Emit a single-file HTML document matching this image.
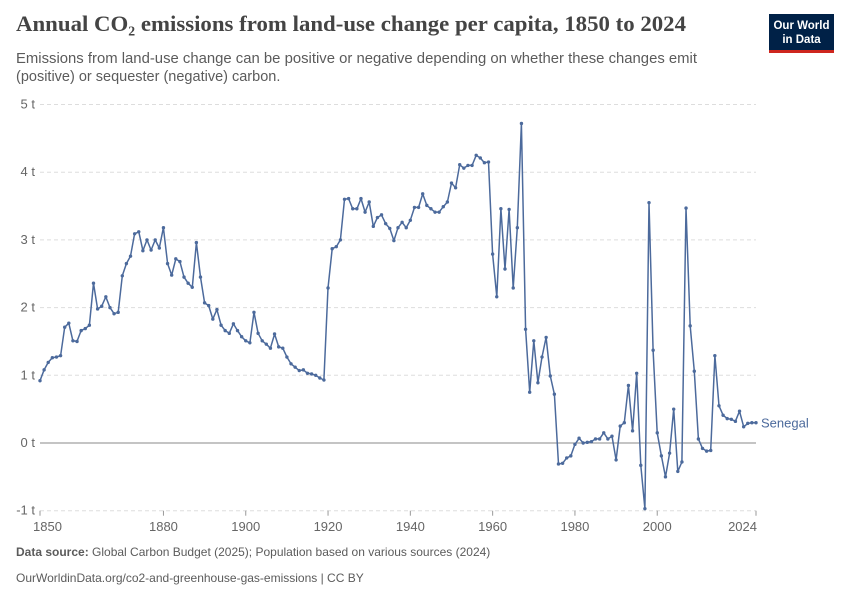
<!DOCTYPE html>
<html><head><meta charset="utf-8"><style>
body{margin:0;background:#fff;width:850px;height:600px;overflow:hidden;font-family:"Liberation Sans",sans-serif}
svg{display:block}
</style></head><body>
<svg width="850" height="600" viewBox="0 0 850 600">
<text x="16" y="31" font-family="Liberation Serif,serif" font-size="22" font-weight="bold" fill="#444" textLength="670" lengthAdjust="spacingAndGlyphs">Annual CO₂ emissions from land-use change per capita, 1850 to 2024</text>
<text x="16" y="63" font-size="14.5" fill="#5b5b5b" textLength="681" lengthAdjust="spacingAndGlyphs">Emissions from land-use change can be positive or negative depending on whether these changes emit</text>
<text x="16" y="81" font-size="14.5" fill="#5b5b5b">(positive) or sequester (negative) carbon.</text>
<g>
<rect x="769" y="14" width="65" height="36" fill="#002147"/>
<rect x="769" y="50" width="65" height="3" fill="#ce261e"/>
<text x="801.5" y="29" font-size="11.5" font-weight="bold" fill="#fff" text-anchor="middle">Our World</text>
<text x="801.5" y="43" font-size="11.5" font-weight="bold" fill="#fff" text-anchor="middle">in Data</text>
</g>
<g id="grid"></g>
<g id="series"></g>
<text x="16" y="556" font-size="12" fill="#5b5b5b"><tspan font-weight="bold">Data source:</tspan> Global Carbon Budget (2025); Population based on various sources (2024)</text>
<text x="16" y="582" font-size="12" fill="#5b5b5b">OurWorldinData.org/co2-and-greenhouse-gas-emissions | CC BY</text>
</svg>
<script>
const startYear = 1850;
const values = [
0.92,1.08,1.19,1.26,1.27,1.29,1.71,1.77,1.51,1.50,
1.66,1.69,1.74,2.36,1.98,2.02,2.16,2.00,1.91,1.93,
2.47,2.65,2.76,3.09,3.12,2.84,3.00,2.85,3.00,2.88,
3.18,2.65,2.48,2.72,2.68,2.45,2.36,2.30,2.96,2.45,
2.07,2.03,1.83,1.97,1.74,1.66,1.62,1.76,1.66,1.57,
1.51,1.48,1.93,1.62,1.51,1.46,1.40,1.61,1.42,1.40,
1.27,1.17,1.12,1.07,1.08,1.03,1.02,1.00,0.96,0.93,
2.29,2.87,2.90,3.00,3.60,3.61,3.46,3.46,3.61,3.41,
3.56,3.20,3.33,3.37,3.24,3.17,2.99,3.18,3.26,3.18,
3.29,3.48,3.48,3.68,3.51,3.46,3.41,3.41,3.49,3.56,
3.84,3.77,4.11,4.06,4.10,4.10,4.25,4.21,4.14,4.15,
2.79,2.16,3.46,2.57,3.45,2.29,3.18,4.72,1.68,0.75,
1.51,0.89,1.27,1.56,0.99,0.72,-0.31,-0.30,-0.22,-0.19,
-0.02,0.07,0.00,0.01,0.02,0.06,0.06,0.15,0.06,0.10,
-0.25,0.25,0.30,0.85,0.18,1.03,-0.33,-0.97,3.55,1.37,
0.15,-0.19,-0.50,-0.15,0.50,-0.42,-0.28,3.47,1.73,1.06,
0.06,-0.08,-0.12,-0.11,1.29,0.55,0.41,0.36,0.35,0.32,
0.47,0.24,0.29,0.30,0.30];
const yTicks = [-1,0,1,2,3,4,5];
const yTickLabels = ["-1 t","0 t","1 t","2 t","3 t","4 t","5 t"];
const xTicks = [1850,1880,1900,1920,1940,1960,1980,2000,2024];
const seriesName = "Senegal";

const NS="http://www.w3.org/2000/svg";
const X0=40,X1=756,Y0=443,PX=67.7;
const x=yr=>X0+(yr-1850)*(X1-X0)/(2024-1850);
const y=v=>Y0-v*PX;
function mk(tag,attrs,parent){const e=document.createElementNS(NS,tag);for(const k in attrs)e.setAttribute(k,attrs[k]);parent.appendChild(e);return e;}
const grid=document.getElementById('grid'),ser=document.getElementById('series');
yTicks.forEach((t,i)=>{
  const l=mk('line',{x1:X0,x2:X1,y1:y(t),y2:y(t),stroke:t===0?'#888':'#ddd','stroke-dasharray':t===0?'none':'4,3'},grid);
  
  
  const tx=mk('text',{x:35,y:y(t)+4,'font-size':13,fill:'#666','text-anchor':'end'},grid);
  tx.textContent=yTickLabels[i];
  
  
});
xTicks.forEach((t,i)=>{
  const l=mk('line',{x1:x(t),x2:x(t),y1:y(-1),y2:y(-1)+5,stroke:'#999'},grid);
  
  
  const first=i===0,last=i===xTicks.length-1;
  const tx=mk('text',{x:first?x(t)-7:last?x(t)+1:x(t),y:531,'font-size':13,fill:'#666','text-anchor':first?'start':last?'end':'middle'},grid);
  tx.textContent=t;
  
  
});
const pts=values.map((v,i)=>x(startYear+i).toFixed(1)+','+y(v).toFixed(1)).join(' ');
const pl=mk('polyline',{points:pts,fill:'none',stroke:'#4c6a9c','stroke-width':1.5,'stroke-linejoin':'round'},ser);


values.forEach((v,i)=>{
  const c=mk('circle',{cx:x(startYear+i),cy:y(v),r:1.7,fill:'#4c6a9c'},ser);
  
  
});
const lab=mk('text',{x:761,y:y(values[values.length-1])+5,'font-size':13,fill:'#4c6a9c'},ser);
lab.textContent=seriesName;


</script>
</body></html>
